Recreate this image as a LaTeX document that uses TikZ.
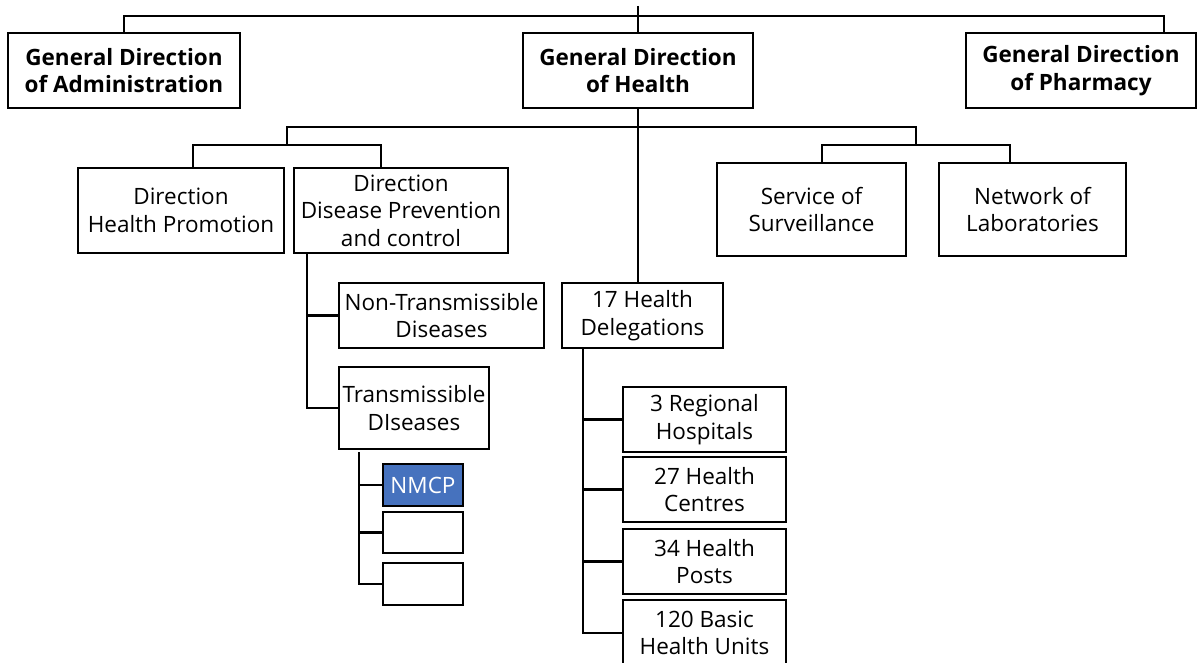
\documentclass[tikz,border=0pt]{standalone}
\usepackage{fontspec}
\setsansfont{Open Sans}
\definecolor{nmcpblue}{HTML}{4672BE}

\begin{document}
\begin{tikzpicture}[x=0.025cm,y=-0.025cm,line width=1.8pt,
		box/.style={draw=black,line width=1.8pt,inner sep=0pt,align=center,
			font=\sffamily\fontsize{16}{19.5}\selectfont},
		topbox/.style={box,font=\sffamily\bfseries\fontsize{16}{19.5}\selectfont},
		sz/.style 2 args={minimum width=#1*0.025cm,minimum height=#2*0.025cm}]
		\useasboundingbox (0,0) rectangle (1198,663);

		\node[topbox,sz={232}{75}] (gda) at (124,70.5){General Direction\\of Administration};
		\node[topbox,sz={230}{75}] (gdh) at (638,70.5){General Direction\\of Health};
		\node[topbox,sz={230}{75}] (gdp) at (1081,70.5){General Direction\\of Pharmacy};

		\node[box,sz={206}{85}] (dhp) at (181,210.5){Direction\\Health Promotion};
		\node[box,sz={214}{85}] (ddp) at (401,210.5){Direction\\Disease Prevention\\and control};
		\node[box,sz={189}{93}] (sos) at (811.5,209.5){Service of\\Surveillance};
		\node[box,sz={187}{93}] (nol) at (1032.5,209.5){Network of\\Laboratories};

		\node[box,sz={205}{65}] (ntd) at (441.5,315.5){Non-Transmissible\\Diseases};
		\node[box,sz={150}{82}] (td) at (414,408){Transmissible\\DIseases};
		\node[box,sz={161}{65}] (hd) at (642.5,315.5){17 Health\\Delegations};

		\node[box,sz={80}{42},fill=nmcpblue,text=white] (nmcp) at (423,485){NMCP};
		\node[box,sz={80}{41}] (bx2) at (423,532.5){};
		\node[box,sz={80}{42}] (bx3) at (423,584){};

		\node[box,sz={163}{65}] (rh) at (704.5,419.5){3 Regional\\Hospitals};
		\node[box,sz={163}{65}] (hc) at (704.5,489.5){27 Health\\Centres};
		\node[box,sz={163}{65}] (hp) at (704.5,561.5){34 Health\\Posts};
		\node[box,sz={163}{66}] (bhu) at (704.5,633){120 Basic\\Health Units};

		\coordinate (top) at (638,6);
		\coordinate (bar) at (638,16);
		\coordinate (gdpup) at (1164,33);
		\coordinate (leftup) at (287,127);
		\coordinate (rightup) at (916,127);
		\coordinate (leftbar) at (287,145);
		\coordinate (rightbar) at (916,145);
		\coordinate (dhpup) at (193,167);
		\coordinate (ddpup) at (381,167);
		\coordinate (sosup) at (822,163);
		\coordinate (nolup) at (1010,163);
		\coordinate (ddpdown) at (307,253);
		\coordinate (tddown) at (359,452);
		\coordinate (hddown) at (583,348);

		\draw (top) -- (gdh.north);
		\draw (gda.north) |- (bar) -| (gdpup);
		\draw (gdh.south) -- (gdh.south |- hd.north);
		\draw (leftbar) |- (rightup) -- (rightbar);
		\draw (dhpup) |- (leftbar) -| (ddpup);
		\draw (sosup) |- (rightbar) -| (nolup);

		\draw (ddpdown) |- (td.west);
		\draw (ddpdown |- ntd.west) -- (ntd.west);

		\draw (tddown) |- (bx3.west);
		\draw (tddown |- nmcp.west) -- (nmcp.west);
		\draw (tddown |- bx2.west) -- (bx2.west);

		\draw (hddown) |- (bhu.west);
		\draw (hddown |- rh.west) -- (rh.west);
		\draw (hddown |- hc.west) -- (hc.west);
		\draw (hddown |- hp.west) -- (hp.west);

	\end{tikzpicture}
\end{document}
